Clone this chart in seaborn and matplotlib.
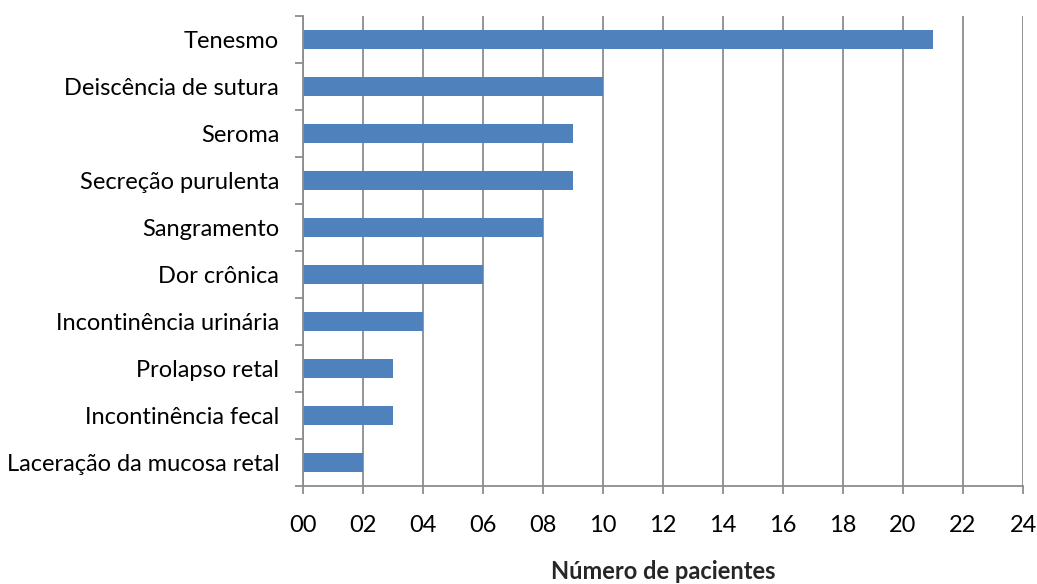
import matplotlib
matplotlib.use("Agg")
import matplotlib.pyplot as plt
import seaborn as sns
import pandas as pd
import numpy as np
from matplotlib.ticker import FixedLocator, FuncFormatter, MultipleLocator

categories = ["Tenesmo", "Deiscência de sutura", "Seroma", "Secreção purulenta",
              "Sangramento", "Dor crônica", "Incontinência urinária", "Prolapso retal",
              "Incontinência fecal", "Laceração da mucosa retal"]
values = [21, 10, 9, 9, 8, 6, 4, 3, 3, 2]
xlabel = "Número de pacientes"

sns.set_theme(style="white")
plt.rcParams['font.family'] = ['Lato', 'DejaVu Sans']

df = pd.DataFrame({"cat": categories, "val": values})

fig = plt.figure(figsize=(10.37, 5.84), dpi=100)
ax = fig.add_axes([0.292, 0.1678, 0.6945, 0.8048])
sns.barplot(data=df, x="val", y="cat", orient="h", color="#4F81BD",
            saturation=1, width=0.4, ax=ax, order=categories, linewidth=0)

ax.set_xlim(0, 24)
ax.set_ylim(len(categories) - 0.5, -0.5)
ax.xaxis.set_major_locator(MultipleLocator(2))
ax.xaxis.set_major_formatter(FuncFormatter(lambda v, p: f"{int(round(v)):02d}"))
ax.grid(axis="x", color="#8C8C8C", linewidth=1.3)
ax.set_axisbelow(True)

for s in ["top", "right"]:
    ax.spines[s].set_visible(False)
for s in ["left", "bottom"]:
    ax.spines[s].set_color("#8C8C8C")
    ax.spines[s].set_linewidth(1.3)

ax.yaxis.set_minor_locator(FixedLocator(np.arange(-0.5, len(categories), 1.0)))
ax.tick_params(axis="y", which="major", length=0, labelsize=17, pad=17, labelcolor="black")
ax.tick_params(axis="y", which="minor", length=6, width=1.3, color="#8C8C8C", left=True)
ax.tick_params(axis="x", which="major", length=6, width=1.3, color="#8C8C8C", bottom=True,
               labelsize=17, pad=15, labelcolor="black")

ax.set_ylabel("")
ax.set_xlabel(xlabel, fontsize=17, fontweight="bold", labelpad=17)

fig.savefig("out.png", dpi=100, facecolor="white")
